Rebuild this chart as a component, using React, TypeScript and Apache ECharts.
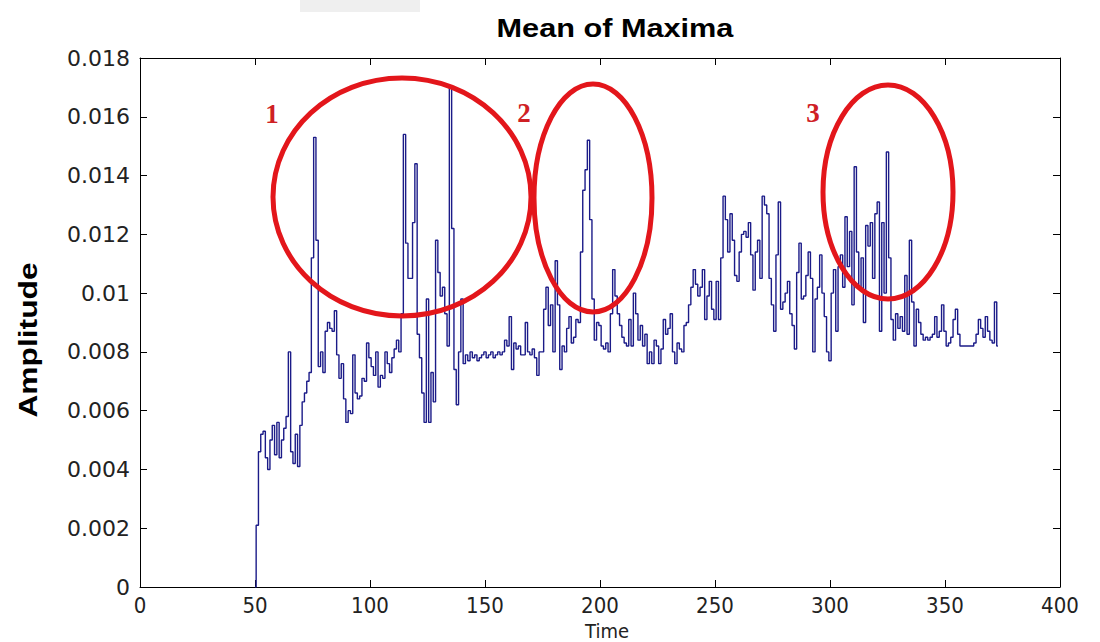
import React, { useEffect, useRef } from "react";
import * as echarts from "echarts";

// Time of the first sample; one sample per time unit after that.
const startTime = 50;

// Mean of maxima, one value per time step from t = 50 to t = 373.
const amplitude = [
  0, 0.0021, 0.0046, 0.0052, 0.0053, 0.0044, 0.004, 0.005, 0.0055, 0.0045,
  0.0056, 0.0044, 0.005, 0.0054, 0.0058, 0.008, 0.0046, 0.0042, 0.0052, 0.0041,
  0.0055, 0.0063, 0.0066, 0.007, 0.0073, 0.0112, 0.0153, 0.0118, 0.0075, 0.008,
  0.0073, 0.0087, 0.009, 0.0088, 0.0087, 0.0094, 0.0079, 0.0071, 0.0076, 0.0064,
  0.0056, 0.006, 0.0059, 0.0079, 0.0066, 0.0064, 0.0065, 0.0071, 0.007, 0.0083,
  0.0078, 0.0075, 0.0072, 0.008, 0.0068, 0.0072, 0.0071, 0.008, 0.0076, 0.0073,
  0.0078, 0.0081, 0.0084, 0.008, 0.0093, 0.0154, 0.0117, 0.0105, 0.0105, 0.0124,
  0.0144, 0.0086, 0.0078, 0.0066, 0.0056, 0.0098, 0.0056, 0.0073, 0.0063, 0.0118,
  0.0107, 0.0099, 0.0102, 0.0093, 0.0082, 0.017, 0.0122, 0.0074, 0.0062, 0.008,
  0.0098, 0.0076, 0.0079, 0.0077, 0.008, 0.0078, 0.0079, 0.0077, 0.0078, 0.0079,
  0.008, 0.0078, 0.0079, 0.008, 0.0078, 0.0079, 0.008, 0.0079, 0.008, 0.0084,
  0.0082, 0.0092, 0.0074, 0.0083, 0.0081, 0.0082, 0.0079, 0.0079, 0.009, 0.008,
  0.0079, 0.0081, 0.0078, 0.0072, 0.008, 0.008, 0.00945, 0.0102, 0.0089, 0.0096,
  0.008, 0.0111, 0.0096, 0.0074, 0.0082, 0.008, 0.0088, 0.0092, 0.0083, 0.0085,
  0.0091, 0.009, 0.0114, 0.0135, 0.0142, 0.0152, 0.0125, 0.0098, 0.0084, 0.009,
  0.0089, 0.0082, 0.0081, 0.0083, 0.008, 0.0093, 0.0108, 0.0099, 0.0093, 0.0089,
  0.0085, 0.0083, 0.0082, 0.0091, 0.0082, 0.01, 0.0093, 0.0084, 0.0089, 0.0082,
  0.0086, 0.0076, 0.008, 0.0076, 0.0084, 0.0082, 0.0076, 0.0081, 0.0091, 0.0086,
  0.0088, 0.0093, 0.008, 0.0076, 0.0083, 0.0081, 0.008, 0.0089, 0.009, 0.0096,
  0.0102, 0.0108, 0.0103, 0.0099, 0.0102, 0.0108, 0.0091, 0.0099, 0.0104, 0.00945,
  0.0091, 0.0104, 0.0091, 0.0112, 0.0133, 0.0125, 0.0114, 0.0127, 0.0118, 0.0106,
  0.0104, 0.0114, 0.012, 0.0121, 0.0119, 0.0124, 0.0113, 0.0101, 0.0114, 0.0118,
  0.0105, 0.0133, 0.013, 0.0127, 0.0105, 0.0096, 0.0087, 0.0113, 0.0131, 0.00945,
  0.0097, 0.01, 0.0104, 0.0093, 0.0089, 0.0081, 0.0107, 0.0117, 0.0098, 0.0099,
  0.0106, 0.0114, 0.0105, 0.008, 0.0098, 0.0102, 0.0113, 0.01, 0.0092, 0.008,
  0.0077, 0.01, 0.0108, 0.0087, 0.0109, 0.0113, 0.0102, 0.0126, 0.0109, 0.0121,
  0.0096, 0.0143, 0.0114, 0.0102, 0.0112, 0.009, 0.0123, 0.0116, 0.0124, 0.0105,
  0.0127, 0.0131, 0.0087, 0.0124, 0.01, 0.0148, 0.0112, 0.0091, 0.0084, 0.0093,
  0.0088, 0.0092, 0.0087, 0.0106, 0.0086, 0.0118, 0.0097, 0.0082, 0.00945, 0.009,
  0.0086, 0.0084, 0.0085, 0.0084, 0.0085, 0.0086, 0.0092, 0.0085, 0.0087, 0.0096,
  0.0087, 0.0082, 0.0083, 0.0085, 0.0091, 0.00945, 0.0086, 0.0082, 0.0082, 0.0082,
  0.0082, 0.0082, 0.0082, 0.0083, 0.0086, 0.0091, 0.0088, 0.0085, 0.0092, 0.0087,
  0.0084, 0.0083, 0.0097, 0.0082,
];

// Regions of interest: label and ellipse outline (pixel space).
const regionLabels = ["1", "2", "3"];
const regionEllipses = [
  { cx: 402, cy: 197, rx: 129, ry: 119, lx: 272, ly: 114 },
  { cx: 593, cy: 198, rx: 59, ry: 114, lx: 524, ly: 113 },
  { cx: 888, cy: 192, rx: 65, ry: 107, lx: 813, ly: 113 },
];

const formatAmplitude = (v: number) => String(parseFloat(v.toFixed(3)));

export default function App() {
  const ref = useRef<HTMLDivElement>(null);

  useEffect(() => {
    if (!ref.current) return;
    const chart = echarts.init(ref.current, null, { renderer: "svg" });

    const seriesData = amplitude.map((v, i) => [startTime + i, v]);

    const boxLine = { show: true, onZero: false, lineStyle: { color: "#000", width: 1 } };
    const boxTick = { show: true, inside: true, length: 7, lineStyle: { color: "#000", width: 1 } };
    const xLabel = {
      color: "#222",
      fontFamily: "'Liberation Sans Narrow', 'DejaVu Sans Condensed', 'Liberation Sans', sans-serif",
      fontSize: 22,
      margin: 7,
    };
    const yLabel = {
      color: "#222",
      fontFamily: "'DejaVu Sans', sans-serif",
      fontSize: 22,
      margin: 10,
      formatter: formatAmplitude,
    };

    const graphics: any[] = [
      {
        type: "rect",
        shape: { x: 300, y: 0, width: 120, height: 12 },
        style: { fill: "#efefef" },
        silent: true,
      },
      {
        type: "text",
        x: 615,
        y: 28,
        scaleX: 1.18,
        style: {
          text: "Mean of Maxima",
          fontFamily: "'Liberation Sans', Arial, sans-serif",
          fontWeight: "bold",
          fontSize: 26,
          fill: "#000",
          align: "center",
          verticalAlign: "middle",
        },
      },
      {
        type: "text",
        x: 28,
        y: 340,
        rotation: Math.PI / 2,
        scaleX: 1.22,
        style: {
          text: "Amplitude",
          fontFamily: "'Liberation Sans', Arial, sans-serif",
          fontWeight: "bold",
          fontSize: 26,
          fill: "#000",
          align: "center",
          verticalAlign: "middle",
        },
      },
      {
        type: "text",
        x: 607,
        y: 631,
        style: {
          text: "Time",
          fontFamily: "'Liberation Sans Narrow', 'DejaVu Sans Condensed', 'Liberation Sans', sans-serif",
          fontSize: 20,
          fill: "#222",
          align: "center",
          verticalAlign: "middle",
        },
      },
    ];

    regionEllipses.forEach((e, i) => {
      graphics.push({
        type: "ellipse",
        shape: { cx: e.cx, cy: e.cy, rx: e.rx, ry: e.ry },
        style: { fill: "none", stroke: "#e3161b", lineWidth: 5 },
        z: 100,
      });
      graphics.push({
        type: "text",
        x: e.lx,
        y: e.ly,
        style: {
          text: regionLabels[i],
          fontFamily: "'Liberation Serif', 'Times New Roman', serif",
          fontWeight: "bold",
          fontSize: 27,
          fill: "#cf2024",
          align: "center",
          verticalAlign: "middle",
        },
        z: 100,
      });
    });

    chart.setOption({
      animation: false,
      backgroundColor: "#fff",
      grid: { left: 140, right: 40, top: 58, bottom: 55, containLabel: false },
      xAxis: [
        {
          type: "value",
          position: "bottom",
          min: 0,
          max: 400,
          interval: 50,
          axisLine: boxLine,
          axisTick: boxTick,
          axisLabel: xLabel,
          splitLine: { show: false },
        },
        {
          type: "value",
          position: "top",
          min: 0,
          max: 400,
          interval: 50,
          axisLine: boxLine,
          axisTick: boxTick,
          axisLabel: { show: false },
          splitLine: { show: false },
        },
      ],
      yAxis: [
        {
          type: "value",
          position: "left",
          min: 0,
          max: 0.018,
          interval: 0.002,
          axisLine: boxLine,
          axisTick: boxTick,
          axisLabel: yLabel,
          splitLine: { show: false },
        },
        {
          type: "value",
          position: "right",
          min: 0,
          max: 0.018,
          interval: 0.002,
          axisLine: boxLine,
          axisTick: boxTick,
          axisLabel: { show: false },
          splitLine: { show: false },
        },
      ],
      series: [
        {
          type: "line",
          xAxisIndex: 0,
          yAxisIndex: 0,
          step: "middle",
          showSymbol: false,
          data: seriesData,
          lineStyle: { color: "#1b1b88", width: 1.4 },
          silent: true,
        },
      ],
      graphic: graphics,
    });

    return () => chart.dispose();
  }, []);

  return (
    <div
      ref={ref}
      style={{ position: "fixed", left: 0, top: 0, width: 1100, height: 642, background: "#fff" }}
    />
  );
}
